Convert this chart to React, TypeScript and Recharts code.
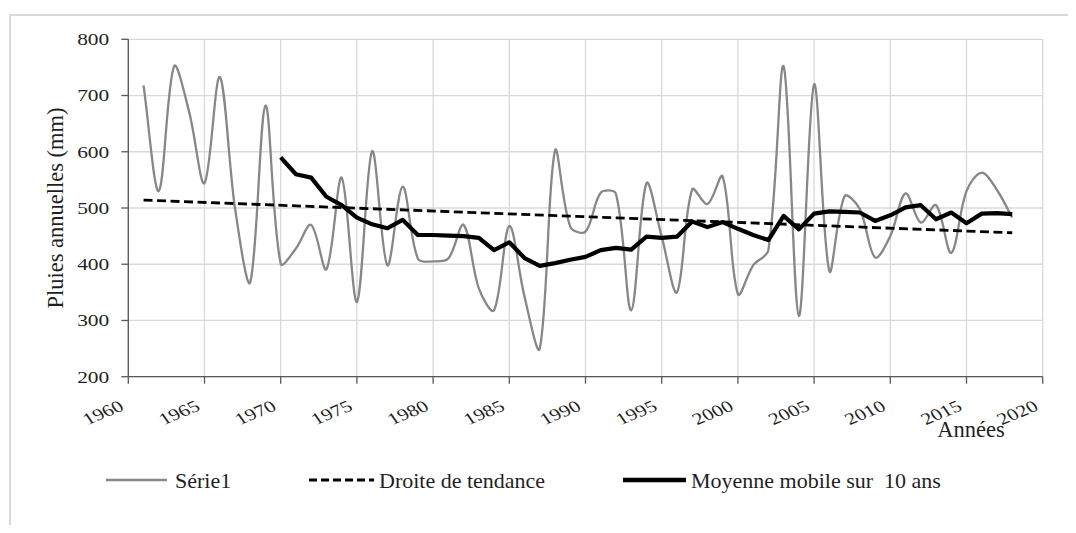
import React from 'react';
import { LineChart, Line, XAxis, YAxis, CartesianGrid } from 'recharts';

const years = [
  1961, 1962, 1963, 1964, 1965, 1966, 1967, 1968, 1969, 1970,
  1971, 1972, 1973, 1974, 1975, 1976, 1977, 1978, 1979, 1980,
  1981, 1982, 1983, 1984, 1985, 1986, 1987, 1988, 1989, 1990,
  1991, 1992, 1993, 1994, 1995, 1996, 1997, 1998, 1999, 2000,
  2001, 2002, 2003, 2004, 2005, 2006, 2007, 2008, 2009, 2010,
  2011, 2012, 2013, 2014, 2015, 2016, 2017, 2018,
];

const rain = [
  718, 530, 752, 670, 544, 733, 500, 368, 682, 401,
  428, 470, 391, 554, 333, 601, 398, 538, 410, 405,
  410, 470, 357, 318, 468, 342, 250, 602, 467, 458,
  527, 525, 318, 544, 449, 350, 533, 507, 556, 347,
  398, 425, 752, 308, 720, 388, 521, 498, 412, 450,
  526, 474, 505, 420, 530, 563, 532, 483,
];

const movingAvg: (number | null)[] = [
  null, null, null, null, null, null, null, null, null, 590,
  560, 554, 520, 505, 483, 471, 464, 479, 452, 452,
  451, 450, 447, 425, 439, 411, 397, 402, 408, 413,
  425, 429, 426, 449, 447, 449, 476, 466, 475, 463,
  452, 443, 486, 462, 490, 494, 493, 492, 477, 487,
  501, 505, 480, 492, 473, 490, 491, 489,
];

const trendYears = [1961, 2018];
const trendValues = [514, 456];

const xTicks = [1960, 1965, 1970, 1975, 1980, 1985, 1990, 1995, 2000, 2005, 2010, 2015, 2020];
const yTicks = [200, 300, 400, 500, 600, 700, 800];

const data = years.map((year, i) => {
  const ti = trendYears.indexOf(year);
  return {
    year,
    rain: rain[i],
    ma: movingAvg[i],
    trend: ti >= 0 ? trendValues[ti] : null,
  };
});

const FONT = '"Liberation Serif", "Times New Roman", serif';
const TXT = '#1f1f1f';
const textStyle = { fontFamily: FONT };

// Excel-like smoothed line: bezier whose handles scale with adjacent chord lengths
function smoothCurve(context: any) {
  let pts: number[][] = [];
  const dist = (a: number[], b: number[]) => Math.hypot(b[0] - a[0], b[1] - a[1]);
  return {
    areaStart() {},
    areaEnd() {},
    lineStart() {
      pts = [];
    },
    point(x: number, y: number) {
      pts.push([+x, +y]);
    },
    lineEnd() {
      if (!pts.length) return;
      context.moveTo(pts[0][0], pts[0][1]);
      const t = 1 / 3;
      for (let i = 0; i < pts.length - 1; i++) {
        const p0 = pts[i - 1] || pts[i];
        const p1 = pts[i];
        const p2 = pts[i + 1];
        const p3 = pts[i + 2] || p2;
        const d01 = dist(p0, p1);
        const d12 = dist(p1, p2);
        const d23 = dist(p2, p3);
        const f1 = d01 + d12 > 0 ? (t * d12) / (d01 + d12) : 0;
        const f2 = d12 + d23 > 0 ? (t * d12) / (d12 + d23) : 0;
        context.bezierCurveTo(
          p1[0] + (p2[0] - p0[0]) * f1,
          p1[1] + (p2[1] - p0[1]) * f1,
          p2[0] - (p3[0] - p1[0]) * f2,
          p2[1] - (p3[1] - p1[1]) * f2,
          p2[0],
          p2[1]
        );
      }
    },
  };
}

const XTick = (props: any) => {
  const { x, y, payload } = props;
  return (
    <text
      transform={`translate(${x - 3},${y + 26}) scale(1.3,1) rotate(-28)`}
      textAnchor="end"
      fontSize={16.5}
      fontFamily={FONT}
      style={textStyle}
      fill={TXT}
    >
      {payload.value}
    </text>
  );
};

const YTick = (props: any) => {
  const { x, y, payload } = props;
  return (
    <text
      transform={`translate(${x},${y}) scale(1.3,1)`}
      textAnchor="end"
      dy="0.36em"
      fontSize={16.5}
      fontFamily={FONT}
      style={textStyle}
      fill={TXT}
    >
      {payload.value}
    </text>
  );
};

const YTitle = (props: any) => {
  const vb = props.viewBox || { x: 0, y: 31.3, width: 120.3, height: 337.4 };
  const cx = vb.x + 55.4;
  const cy = vb.y + vb.height / 2;
  return (
    <text
      x={cx}
      y={cy}
      transform={`rotate(-90 ${cx} ${cy})`}
      textAnchor="middle"
      fontSize={22.5}
      fontFamily={FONT}
      style={textStyle}
      fill={TXT}
    >
      Pluies annuelles (mm)
    </text>
  );
};

const XTitle = (props: any) => {
  const vb = props.viewBox || { x: 120.3, y: 368.7, width: 914.4, height: 141.3 };
  return (
    <text
      x={vb.x + vb.width - 71.7}
      y={vb.y + 60.3}
      textAnchor="middle"
      fontSize={22.5}
      fontFamily={FONT}
      style={textStyle}
      fill={TXT}
    >
      Années
    </text>
  );
};

export default function App() {
  return (
    <div style={{ position: 'relative', width: 1068, height: 517, overflow: 'hidden', background: '#fff', fontFamily: FONT }}>
      <div
        style={{
          position: 'absolute',
          left: 1,
          top: 6,
          width: 1200,
          height: 700,
          border: '2px solid #d9d9d9',
        }}
      />
      <div style={{ position: 'absolute', left: 0, top: 0 }}>
        <LineChart
          width={1060}
          height={510}
          data={data}
          margin={{ top: 31.3, right: 25.3, left: 0, bottom: 0 }}
        >
          <CartesianGrid stroke="#d9d9d9" strokeWidth={1.3} />
          <XAxis
            dataKey="year"
            type="number"
            domain={[1960, 2020]}
            ticks={xTicks}
            interval={0}
            height={141.3}
            tickSize={7}
            tickMargin={0}
            tick={<XTick />}
            stroke="#595959"
            strokeWidth={1.3}
            allowDataOverflow
            label={<XTitle />}
          />
          <YAxis
            type="number"
            domain={[200, 800]}
            ticks={yTicks}
            interval={0}
            width={120.3}
            tickSize={7}
            tickMargin={12}
            tick={<YTick />}
            stroke="#595959"
            strokeWidth={1.3}
            allowDataOverflow
            label={<YTitle />}
          />
          <Line
            dataKey="rain"
            type={smoothCurve as any}
            stroke="#878787"
            strokeWidth={2.3}
            dot={false}
            activeDot={false}
            isAnimationActive={false}
          />
          <Line
            dataKey="trend"
            type="linear"
            stroke="#000"
            strokeWidth={2.8}
            strokeDasharray="9 4.5"
            connectNulls
            dot={false}
            activeDot={false}
            isAnimationActive={false}
          />
          <Line
            dataKey="ma"
            type="linear"
            stroke="#000"
            strokeWidth={4.2}
            strokeLinejoin="round"
            dot={false}
            activeDot={false}
            isAnimationActive={false}
          />
        </LineChart>
      </div>
      <svg
        width={1068}
        height={77}
        style={{ position: 'absolute', left: 0, top: 440, fontFamily: FONT }}
        fontFamily={FONT}
      >
        <line x1={98} y1={32} x2={159} y2={32} stroke="#878787" strokeWidth={2.3} />
        <text x={167} y={40} fontSize={22} fill={TXT}>Série1</text>
        <line x1={301} y1={32} x2={366} y2={32} stroke="#000" strokeWidth={3} strokeDasharray="8 4" />
        <text x={371} y={40} fontSize={22} fill={TXT}>Droite de tendance</text>
        <line x1={615} y1={32} x2={678} y2={32} stroke="#000" strokeWidth={4.5} />
        <text x={683} y={40} fontSize={22} fill={TXT} style={{ whiteSpace: 'pre' }}>
          {'Moyenne mobile sur  10 ans'}
        </text>
      </svg>
    </div>
  );
}
